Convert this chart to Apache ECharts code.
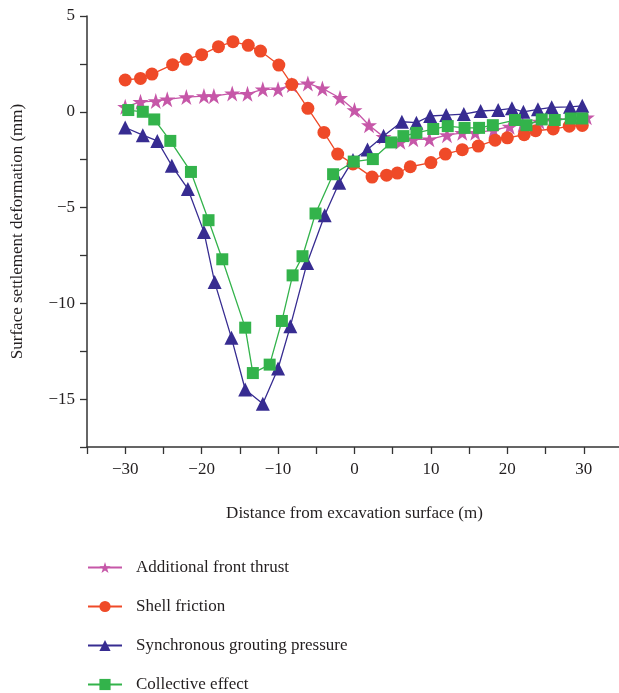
<!DOCTYPE html>
<html>
<head>
<meta charset="utf-8">
<script src="https://cdn.jsdelivr.net/npm/echarts@6/dist/echarts.min.js"></script>
<style>
  html, body { margin: 0; padding: 0; background: #fff; }
  #chart { width: 619px; height: 693px; }
</style>
</head>
<body>
<div id="chart"></div>
<script>
// values
const seriesNames = ['Additional front thrust', 'Shell friction', 'Synchronous grouting pressure', 'Collective effect'];

const thrustX = [-30, -28, -26, -24.5, -22, -19.7, -18.4, -16, -14, -12, -10, -8.2, -6.1, -4.2, -1.9, 0, 1.9, 3.8, 6, 7.7, 9.8, 12.1, 14.1, 15.8, 18.2, 20.3, 22, 24.2, 26.2, 28.6, 30.4];
const thrustY = [0.26, 0.52, 0.56, 0.65, 0.77, 0.82, 0.82, 0.96, 0.94, 1.17, 1.17, 1.4, 1.48, 1.22, 0.72, 0.09, -0.7, -1.31, -1.57, -1.44, -1.44, -1.22, -1.1, -1.1, -0.96, -0.78, -0.66, -0.52, -0.43, -0.35, -0.29];

const frictionX = [-30, -28, -26.5, -23.8, -22, -20, -17.8, -15.9, -13.9, -12.3, -9.9, -8.2, -6.1, -4, -2.2, -0.2, 2.3, 4.2, 5.6, 7.3, 10, 11.9, 14.1, 16.2, 18.4, 20, 22.2, 23.7, 26, 28.1, 29.8];
const frictionY = [1.66, 1.74, 1.97, 2.46, 2.74, 2.98, 3.4, 3.66, 3.47, 3.17, 2.44, 1.43, 0.18, -1.08, -2.21, -2.72, -3.41, -3.31, -3.2, -2.87, -2.65, -2.21, -1.98, -1.79, -1.48, -1.36, -1.2, -0.99, -0.9, -0.75, -0.71];

const groutX = [-30, -27.7, -25.8, -23.9, -21.8, -19.7, -18.3, -16.1, -14.3, -12, -10, -8.4, -6.2, -3.9, -2, -0.2, 1.7, 3.8, 6.2, 8.1, 9.9, 12, 14.3, 16.5, 18.8, 20.6, 22.1, 24, 25.8, 28.2, 29.8];
const groutY = [-0.82, -1.22, -1.52, -2.82, -4.03, -6.27, -8.89, -11.8, -14.5, -15.24, -13.4, -11.2, -7.89, -5.4, -3.7, -2.52, -1.97, -1.27, -0.52, -0.57, -0.22, -0.17, -0.12, 0.04, 0.09, 0.18, 0.0, 0.13, 0.23, 0.26, 0.31];

const collectX = [-29.6, -27.7, -26.2, -24.1, -21.4, -19.1, -17.3, -14.3, -13.3, -11.1, -9.5, -8.1, -6.8, -5.1, -2.8, -0.1, 2.4, 4.8, 6.4, 8.1, 10.3, 12.2, 14.4, 16.3, 18.1, 21, 22.5, 24.5, 26.2, 28.3, 29.8];
const collectY = [0.09, 0, -0.4, -1.52, -3.14, -5.66, -7.7, -11.27, -13.64, -13.2, -10.92, -8.54, -7.54, -5.31, -3.26, -2.6, -2.47, -1.6, -1.27, -1.1, -0.9, -0.75, -0.84, -0.84, -0.7, -0.43, -0.7, -0.4, -0.43, -0.35, -0.35];

const seriesColors = ['#c657a8', '#ef4a28', '#372c91', '#33b34b'];
const seriesSymbols = [
  'path://M50,0 L61.8,35.4 L99,35.4 L69,57.3 L80.9,92.7 L50,70.8 L19.1,92.7 L31,57.3 L1,35.4 L38.2,35.4 Z',
  'circle', 'triangle', 'rect'
];
const symbolSizes = [16, 13, 14, 12];

const zip = (xs, ys) => xs.map((x, i) => [x, ys[i]]);
const allData = [zip(thrustX, thrustY), zip(frictionX, frictionY), zip(groutX, groutY), zip(collectX, collectY)];

const font = '"Liberation Serif", "DejaVu Serif", serif';
const minus = v => String(v).replace('-', '\u2212');

const chart = echarts.init(document.getElementById('chart'));
const option = {
  animation: false,
  grid: { left: 87, right: -3, top: 16, bottom: 246, outerBoundsMode: 'none' },
  xAxis: {
    type: 'value', min: -35, max: 35, interval: 5,
    name: 'Distance from excavation surface (m)',
    nameLocation: 'middle', nameGap: 58,
    nameTextStyle: { fontFamily: font, fontSize: 17, color: '#231f20' },
    axisLine: { onZero: false, lineStyle: { color: '#333', width: 1.5 } },
    axisTick: { inside: false, length: 7, lineStyle: { color: '#333', width: 1.3 } },
    axisLabel: {
      fontFamily: font, fontSize: 17, color: '#231f20', margin: 14,
      formatter: v => (v % 10 === 0 && Math.abs(v) <= 30) ? minus(v) : ''
    },
    splitLine: { show: false }
  },
  yAxis: {
    type: 'value', min: -17.5, max: 5, interval: 2.5,
    name: 'Surface settlement deformation (mm)',
    nameLocation: 'middle', nameGap: 61,
    nameTextStyle: { fontFamily: font, fontSize: 17, color: '#231f20' },
    axisLine: { show: true, onZero: false, lineStyle: { color: '#333', width: 1.5 } },
    axisTick: { show: true, length: 7, lineStyle: { color: '#333', width: 1.3 } },
    axisLabel: {
      fontFamily: font, fontSize: 17, color: '#231f20', margin: 12,
      formatter: v => (v % 5 === 0) ? minus(v) : ''
    },
    splitLine: { show: false }
  },
  legend: {
    orient: 'vertical', left: 87, top: 559, padding: 0, height: 180,
    itemWidth: 34, itemHeight: 14, itemGap: 22,
    textStyle: { fontFamily: font, fontSize: 17, lineHeight: 14, color: '#231f20', padding: [0, 0, 0, 9] },
    data: seriesNames
  },
  series: seriesNames.map((name, i) => ({
    name: name,
    type: 'line',
    data: allData[i],
    symbol: seriesSymbols[i],
    symbolSize: symbolSizes[i],
    z: 2 + i,
    lineStyle: { color: seriesColors[i], width: 1.3 },
    itemStyle: { color: seriesColors[i] }
  }))
};
chart.setOption(option);
</script>
</body>
</html>
